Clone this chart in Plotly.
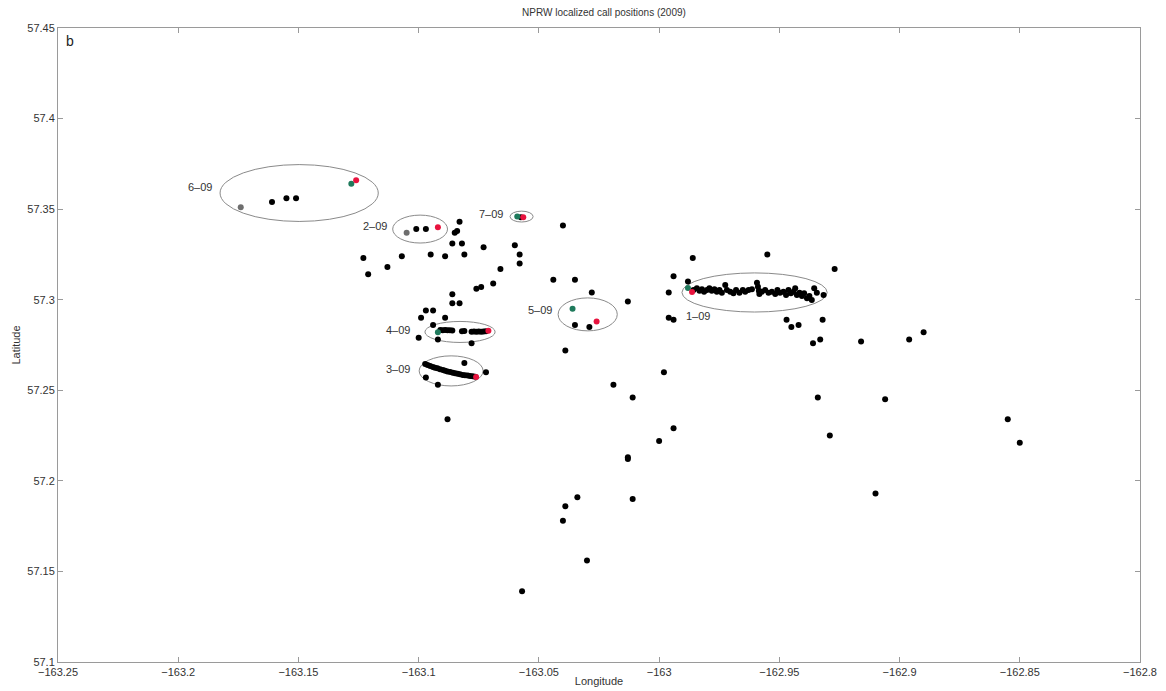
import plotly.graph_objects as go

# ---------------- data (longitude, latitude) ----------------
black_lon = [
    -163.161, -163.155, -163.151,
    -163.101, -163.097,
    -163.083, -163.084, -163.085, -163.086, -163.082, -163.073, -163.060, -163.058,
    -163.058, -163.066, -163.069, -163.074, -163.076, -163.086, -163.081, -163.089,
    -163.095, -163.107, -163.113, -163.123, -163.121, -163.040, -163.044, -163.035,
    -163.028, -163.013, -163.086, -163.083, -163.097, -163.094, -163.099, -163.089,
    -163.094, -163.100, -163.092, -163.078, -163.081, -163.072, -163.097, -163.092,
    -163.088, -163.039, -162.996, -162.996, -162.994, -162.998, -163.019, -163.011,
    -162.994, -163.000, -163.013, -163.013, -163.034, -163.039, -163.040, -163.011,
    -163.030, -163.057, -162.986, -162.955, -162.927, -162.994, -162.988, -162.947,
    -162.945, -162.942, -162.932, -162.936, -162.933, -162.916, -162.896, -162.890,
    -162.934, -162.906, -162.929, -162.855, -162.850, -162.910,
]
black_lat = [
    57.354, 57.356, 57.356,
    57.339, 57.339,
    57.343, 57.338, 57.337, 57.331, 57.331, 57.329, 57.330, 57.325,
    57.320, 57.317, 57.309, 57.307, 57.306, 57.303, 57.325, 57.324,
    57.325, 57.324, 57.318, 57.323, 57.314, 57.341, 57.311, 57.311,
    57.304, 57.299, 57.298, 57.298, 57.294, 57.294, 57.290, 57.290,
    57.286, 57.279, 57.278, 57.276, 57.265, 57.260, 57.257, 57.253,
    57.234, 57.272, 57.304, 57.290, 57.289, 57.260, 57.253, 57.246,
    57.229, 57.222, 57.213, 57.212, 57.191, 57.186, 57.178, 57.190,
    57.156, 57.139, 57.323, 57.325, 57.317, 57.313, 57.310, 57.289,
    57.285, 57.286, 57.289, 57.276, 57.278, 57.277, 57.278, 57.282,
    57.246, 57.245, 57.225, 57.234, 57.221, 57.193,
]

# track 1-09 (dense)
t1_lon = [-162.9857, -162.9843, -162.9832, -162.9822, -162.9813, -162.9801, -162.9791, -162.9781,
          -162.9770, -162.9760, -162.9749, -162.9739, -162.9725, -162.9718, -162.9704, -162.9691,
          -162.9680, -162.9666, -162.9652, -162.9642, -162.9628, -162.9614, -162.9593, -162.9589,
          -162.9585, -162.9583, -162.9573, -162.9559, -162.9545, -162.9531, -162.9517, -162.9508,
          -162.9497, -162.9483, -162.9472, -162.9462, -162.9452, -162.9441, -162.9434, -162.9427,
          -162.9416, -162.9406, -162.9397, -162.9385, -162.9375, -162.9365, -162.9355, -162.9344,
          -162.9316]
t1_lat = [57.3054, 57.3063, 57.3050, 57.3058, 57.3044, 57.3054, 57.3063, 57.3050,
          57.3058, 57.3044, 57.3054, 57.3039, 57.3081, 57.3054, 57.3044, 57.3036,
          57.3054, 57.3039, 57.3054, 57.3044, 57.3054, 57.3058, 57.3094, 57.3072,
          57.3050, 57.3032, 57.3044, 57.3054, 57.3039, 57.3044, 57.3032, 57.3054,
          57.3039, 57.3044, 57.3026, 57.3054, 57.3036, 57.3044, 57.3063, 57.3026,
          57.3039, 57.3021, 57.3036, 57.3008, 57.3021, 57.2999, 57.3063, 57.3039,
          57.3026]

# track 3-09
t3_lon = [-163.0973, -163.0963, -163.0952, -163.0941, -163.0932, -163.0922, -163.0911, -163.0899,
          -163.0890, -163.0880, -163.0869, -163.0858, -163.0848, -163.0838, -163.0828, -163.0817,
          -163.0807, -163.0796, -163.0786, -163.0775, -163.0765]
t3_lat = [57.2645, 57.2640, 57.2634, 57.2629, 57.2625, 57.2621, 57.2616, 57.2612,
          57.2608, 57.2604, 57.2601, 57.2597, 57.2594, 57.2591, 57.2588, 57.2585,
          57.2583, 57.2581, 57.2579, 57.2577, 57.2575]

# track 4-09
t4_lon = [-163.091, -163.090, -163.089, -163.088, -163.087, -163.086, -163.082, -163.081,
          -163.078, -163.077, -163.076, -163.075, -163.074, -163.073, -163.072]
t4_lat = [57.2833, 57.2832, 57.2833, 57.2831, 57.2832, 57.2830, 57.2826, 57.2827,
          57.2823, 57.2824, 57.2823, 57.2824, 57.2823, 57.2825, 57.2826]

# track 5-09, 7-09 interior points
t5_lon = [-163.035, -163.029]
t5_lat = [57.286, 57.285]
t7_lon = [-163.0575]
t7_lat = [57.3455]

gray_lon = [-163.174, -163.105]
gray_lat = [57.351, 57.337]

green_lon = [-163.128, -163.092, -163.059, -163.036, -162.988]
green_lat = [57.364, 57.282, 57.346, 57.295, 57.3065]

red_lon = [-163.126, -163.092, -163.0565, -163.071, -163.0761, -163.026, -162.9863]
red_lat = [57.366, 57.340, 57.3455, 57.2828, 57.2574, 57.2880, 57.3043]

# ellipses: label, center lon, center lat, half-width lon, half-height lat, label lon, label lat
ell_names = ["6–09", "2–09", "7–09", "4–09", "3–09", "5–09", "1–09"]
ell_cx = [-163.1497, -163.0994, -163.0572, -163.0828, -163.0865, -163.0297, -162.9603]
ell_cy = [57.3589, 57.3390, 57.3459, 57.2822, 57.2607, 57.2919, 57.3040]
ell_rx = [0.0329, 0.0114, 0.0048, 0.0146, 0.0133, 0.0123, 0.0302]
ell_ry = [0.0157, 0.0077, 0.0030, 0.0058, 0.0083, 0.0091, 0.0108]
lab_x = [-163.1909, -163.1181, -163.0699, -163.1086, -163.1086, -163.0495, -162.9838]
lab_y = [57.3622, 57.3407, 57.3473, 57.2833, 57.2618, 57.2943, 57.2910]

x_ticks = [-163.25, -163.2, -163.15, -163.1, -163.05, -163.0, -162.95, -162.9, -162.85, -162.8]
x_ticktext = ["−163.25", "−163.2", "−163.15", "−163.1", "−163.05", "−163", "−162.95", "−162.9", "−162.85", "−162.8"]
y_ticks = [57.1, 57.15, 57.2, 57.25, 57.3, 57.35, 57.4, 57.45]
y_ticktext = ["57.1", "57.15", "57.2", "57.25", "57.3", "57.35", "57.4", "57.45"]

FONT = "Liberation Sans, Arial, Helvetica, sans-serif"

fig = go.Figure()

shapes = []
for cx, cy, rx, ry in zip(ell_cx, ell_cy, ell_rx, ell_ry):
    shapes.append(dict(type="circle", xref="x", yref="y",
                       x0=cx - rx, x1=cx + rx, y0=cy - ry, y1=cy + ry,
                       line=dict(color="#8a8a8a", width=1), layer="below"))

def add_pts(lon, lat, color, size=6):
    fig.add_trace(go.Scatter(x=lon, y=lat, mode="markers",
                             marker=dict(color=color, size=size, line=dict(width=0)),
                             showlegend=False, hoverinfo="x+y"))

add_pts(black_lon, black_lat, "#000000")
add_pts(t1_lon, t1_lat, "#000000")
add_pts(t3_lon, t3_lat, "#000000")
add_pts(t4_lon, t4_lat, "#000000")
add_pts(t5_lon, t5_lat, "#000000")
add_pts(t7_lon, t7_lat, "#000000")
add_pts(gray_lon, gray_lat, "#6e6e6e")
add_pts(green_lon, green_lat, "#1f7a5c")
add_pts(red_lon, red_lat, "#e8133e")

annotations = []
for name, lx, ly in zip(ell_names, lab_x, lab_y):
    annotations.append(dict(x=lx, y=ly, xref="x", yref="y", text=name, showarrow=False,
                            font=dict(family=FONT, size=11, color="#333333")))
annotations.append(dict(x=0.006, y=0.995, xref="paper", yref="paper", text="b", showarrow=False,
                        xanchor="left", yanchor="top", font=dict(family=FONT, size=14, color="#222222")))

axis_common = dict(showline=True, linecolor="#9a9a9a", linewidth=1, mirror="ticks",
                   ticks="inside", ticklen=5, tickcolor="#9a9a9a", showgrid=False, zeroline=False,
                   tickfont=dict(family=FONT, size=11, color="#333333"))

fig.update_layout(
    width=1166, height=691,
    margin=dict(l=58, r=26, t=28, b=29),
    paper_bgcolor="white", plot_bgcolor="white",
    title=dict(text="NPRW localized call positions (2009)", x=0.518, xanchor="center",
               y=0.982, yanchor="middle", font=dict(family=FONT, size=10, color="#333333")),
    shapes=shapes, annotations=annotations,
    xaxis=dict(range=[-163.25, -162.8], tickvals=x_ticks, ticktext=x_ticktext,
               title=dict(text="Longitude", standoff=0, font=dict(family=FONT, size=11, color="#333333")),
               **axis_common),
    yaxis=dict(range=[57.1, 57.45], tickvals=y_ticks, ticktext=y_ticktext,
               title=dict(text="Latitude", standoff=4, font=dict(family=FONT, size=11, color="#333333")),
               **axis_common),
)
fig.update_xaxes(automargin=False)
fig.update_yaxes(automargin=False)

fig.write_html("out.html", config={"displayModeBar": False},
               post_script="document.body.style.margin='0px';document.body.style.overflow='hidden';")
